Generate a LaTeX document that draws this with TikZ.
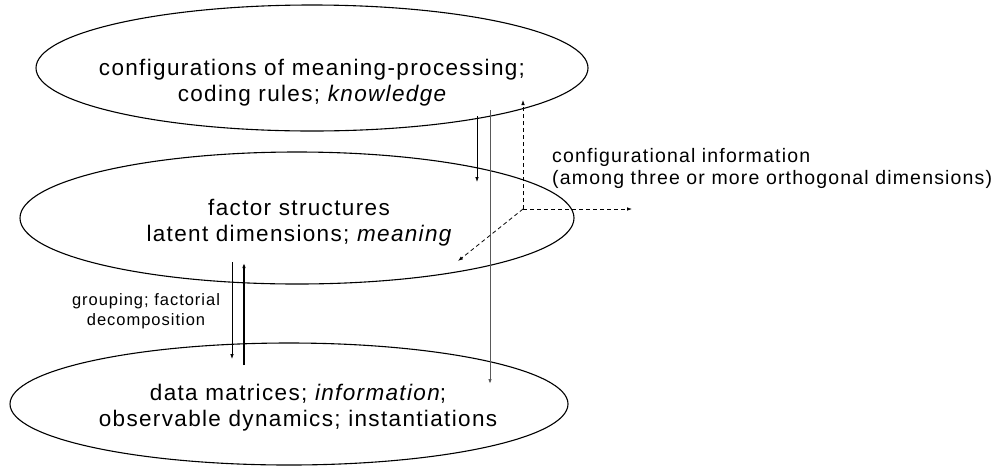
\documentclass[tikz,border=0pt]{standalone}
\usepackage{fontspec}
\setmainfont{Liberation Sans}
\newfontfamily\mainf[LetterSpace=6]{Liberation Sans}
\usetikzlibrary{shapes.geometric,arrows.meta}
\begin{document}
\begin{tikzpicture}[x=1pt,y=-1pt,
  layer/.style={draw, ellipse, line width=1.1pt, inner sep=0pt},
  big/.style={anchor=base, font=\mainf\fontsize{22.5}{26}\selectfont, inner sep=0pt},
  side/.style={anchor=base west, font=\mainf\fontsize{19.5}{22}\selectfont, inner sep=0pt},
  small/.style={anchor=base, font=\mainf\fontsize{16.5}{20}\selectfont, inner sep=0pt},
  arr/.style={-{Latex[length=5pt,width=3.6pt]}, line width=0.8pt},
  darr/.style={arr, dash pattern=on 4pt off 3pt}
]
\useasboundingbox (0,0) rectangle (998,467);
% layers
\node[layer, minimum width=552, minimum height=126] (top) at (312,68) {};
\node[layer, minimum width=554, minimum height=132] (mid) at (297,218) {};
\node[layer, minimum width=558, minimum height=122] (bot) at (289,404) {};
% texts
\node[big] (t1) at (312,75) {configurations of meaning-processing;};
\node[big] (t2) at (312,101) {coding rules; {\itshape knowledge}};
\node[big] (m1) at (299,215) {factor structures};
\node[big] (m2) at (299,241) {latent dimensions; {\itshape meaning}};
\node[big] (b1) at (298,400) {data matrices; {\itshape information};};
\node[big] (b2) at (298,426) {observable dynamics; instantiations};
\node[side] (c1) at (552,162) {configurational information};
\node[side] (c2) at (552,184) {(among three or more orthogonal dimensions)};
\node[small] (g1) at (146,305) {grouping; factorial};
\node[small] (g2) at (146,325) {decomposition};
% arrows
\coordinate (a1s) at (477,116);
\coordinate (a1e) at (477,182);
\draw[arr] (a1s) -- (a1e);
\coordinate (a2s) at (490,110);
\coordinate (a2e) at (490,384);
\draw[arr, draw=black!65, line width=1pt] (a2s) -- (a2e);
\coordinate (o) at (523,209);
\coordinate (dy) at (523,100);
\coordinate (dx) at (632,209);
\coordinate (dz) at (458,261);
\draw[darr] (o) -- (dy);
\draw[darr] (o) -- (dx);
\draw[darr] (o) -- (dz);
\coordinate (g1s) at (232,262);
\coordinate (g1e) at (232,359);
\draw[arr] (g1s) -- (g1e);
\coordinate (g2s) at (244,365);
\coordinate (g2e) at (244,263);
\draw[arr, line width=1.4pt] (g2s) -- (g2e);
\end{tikzpicture}
\end{document}
